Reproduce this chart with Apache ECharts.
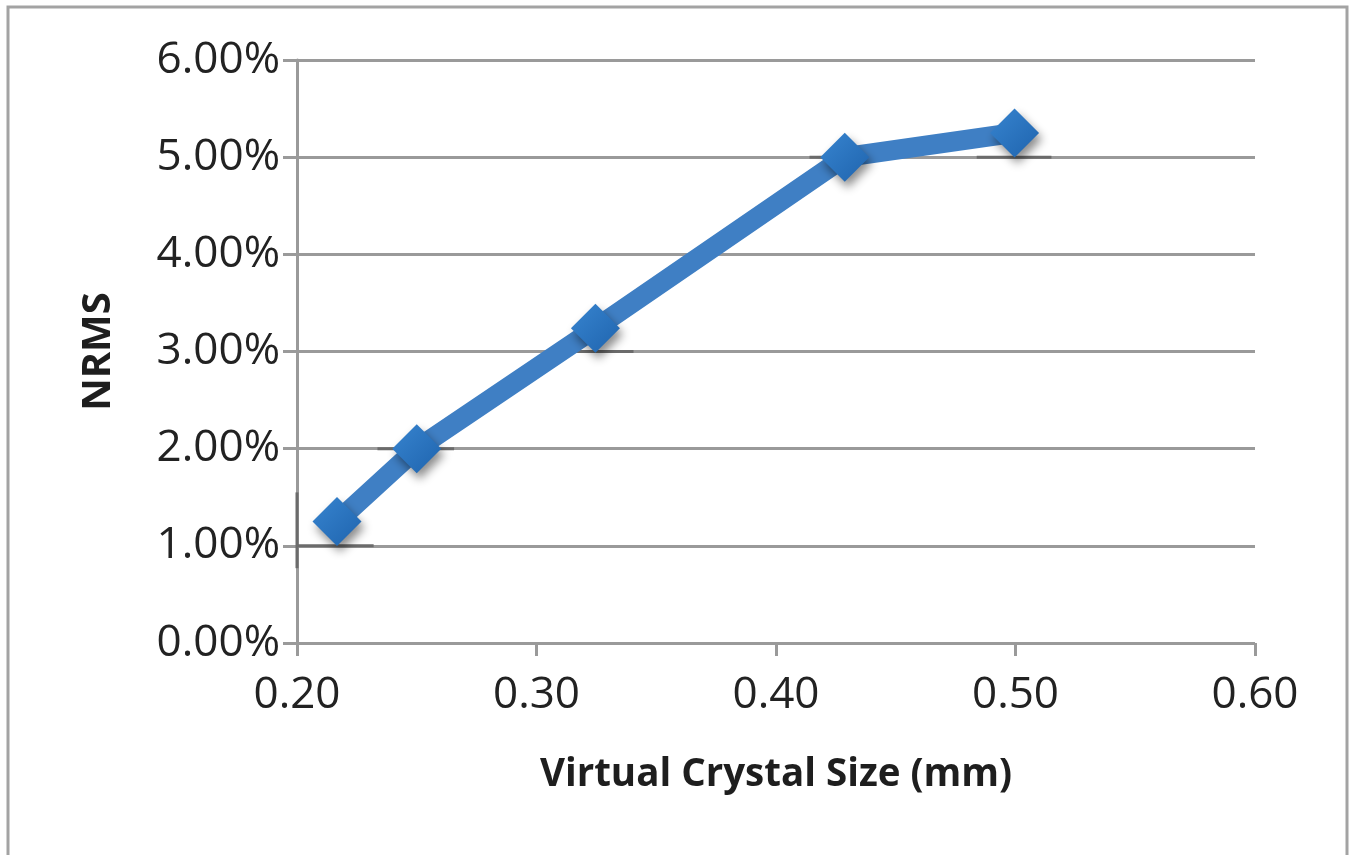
<!DOCTYPE html>
<html>
<head>
<meta charset="utf-8">
<script src="https://cdn.jsdelivr.net/npm/echarts@6/dist/echarts.min.js"></script>
<style>
  html, body { margin: 0; padding: 0; background: #ffffff; }
  #chart { width: 1355px; height: 855px; }
</style>
</head>
<body>
<div id="chart"></div>
<script>
// Virtual crystal size (mm) versus NRMS (%)
const crystalSize = [0.2167, 0.25, 0.3246, 0.4287, 0.4996];
const nrms = [1.25, 2.0, 3.24, 5.0, 5.25];

// Horizontal error-bar segments (centre x, level y, half-width in mm)
const errCentre = [0.216, 0.2496, 0.324, 0.429, 0.4994];
const errLevel = [1.0, 2.0, 3.0, 5.0, 5.0];
const errHalf = [0.016, 0.016, 0.0165, 0.015, 0.0156];
// Vertical error-bar segment at the left axis
const vErr = [[0.20, 0.77, 1.55]];

const yTicks = [0, 1, 2, 3, 4, 5, 6];
const xTicks = [0.2, 0.3, 0.4, 0.5, 0.6];

const FONT = '"Open Sans", "Noto Sans", sans-serif';

const chart = echarts.init(document.getElementById('chart'));

const segData = errCentre.map((c, i) => [c, errLevel[i], errHalf[i], 0]);
vErr.forEach(v => segData.push([v[0], (v[1] + v[2]) / 2, (v[2] - v[1]) / 2, 1]));

chart.setOption({
  animation: false,
  backgroundColor: '#ffffff',
  graphic: [{
    type: 'rect',
    shape: { x: 8, y: 7, width: 1339, height: 870 },
    style: { fill: 'none', stroke: '#a3a3a3', lineWidth: 3 },
    z: -1
  }],
  grid: { left: 297, right: 100, top: 60, bottom: 212, containLabel: false },
  xAxis: {
    type: 'value',
    min: 0.2, max: 0.6, interval: 0.1,
    name: 'Virtual Crystal Size (mm)',
    nameLocation: 'middle',
    nameGap: 113,
    nameTextStyle: { fontFamily: FONT, fontSize: 38.5, fontWeight: 'bold', color: '#1e1e1e' },
    axisLine: { show: false },
    axisTick: { show: true, length: 13, inside: false, lineStyle: { color: '#9a9a9a', width: 3 } },
    axisLabel: {
      fontFamily: FONT, fontSize: 44, color: '#222', margin: 30,
      formatter: v => v.toFixed(2)
    },
    splitLine: { show: false }
  },
  yAxis: {
    type: 'value',
    min: 0, max: 6, interval: 1,
    name: 'NRMS',
    nameLocation: 'middle',
    nameGap: 178,
    nameRotate: 90,
    nameTextStyle: { fontFamily: FONT, fontSize: 40, fontWeight: 'bold', color: '#1e1e1e' },
    axisLine: { show: true, lineStyle: { color: '#9a9a9a', width: 3 } },
    axisTick: { show: true, length: 14, inside: false, lineStyle: { color: '#9a9a9a', width: 3 } },
    axisLabel: {
      fontFamily: FONT, fontSize: 44, color: '#222', margin: 17,
      formatter: v => v.toFixed(2) + '%'
    },
    splitLine: { show: true, lineStyle: { color: '#9a9a9a', width: 3 } }
  },
  series: [
    {
      type: 'custom',
      z: 3,
      data: segData,
      renderItem: (params, api) => {
        const c = api.value(0), y = api.value(1), h = api.value(2), vert = api.value(3);
        let p1, p2;
        if (vert) { p1 = api.coord([c, y - h]); p2 = api.coord([c, y + h]); }
        else { p1 = api.coord([c - h, y]); p2 = api.coord([c + h, y]); }
        return {
          type: 'line',
          shape: { x1: p1[0], y1: p1[1], x2: p2[0], y2: p2[1] },
          style: { stroke: '#6b6b6b', lineWidth: 3 }
        };
      }
    },
    {
      type: 'line',
      z: 5,
      data: crystalSize.map((x, i) => [x, nrms[i]]),
      symbol: 'diamond',
      symbolSize: 49,
      lineStyle: { color: '#3f7fc4', width: 20, cap: 'butt', join: 'round' },
      itemStyle: {
        color: new echarts.graphic.LinearGradient(0, 0, 1, 1, [
          { offset: 0, color: '#3784cf' },
          { offset: 1, color: '#1f64ae' }
        ]),
        shadowColor: 'rgba(0,0,0,0.45)',
        shadowBlur: 10,
        shadowOffsetX: 3,
        shadowOffsetY: 6
      },
      emphasis: { disabled: true }
    }
  ]
});
</script>
</body>
</html>
